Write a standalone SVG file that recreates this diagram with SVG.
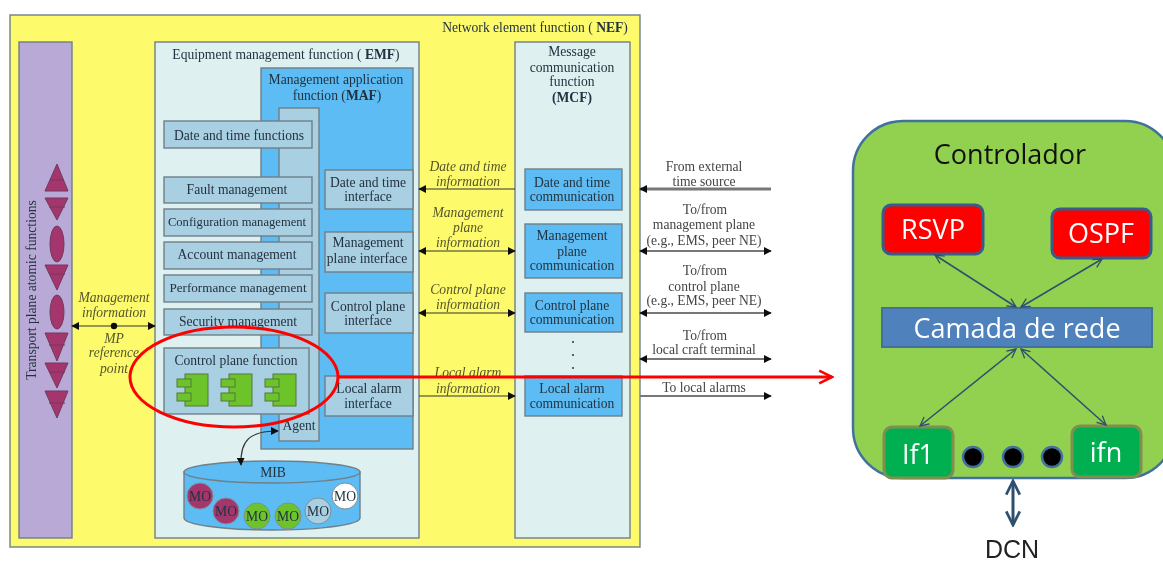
<svg xmlns="http://www.w3.org/2000/svg" width="1163" height="563" viewBox="0 0 1163 563">
<style>
.box{stroke:#6f7f88;stroke-width:1.4}
.pale{fill:#dff0f1}.blue{fill:#5bbcf3}.mid{fill:#a8cfe2}.plum{fill:#a5356d;stroke:#6f3a5c;stroke-width:1}
.t{font-family:"Liberation Serif",serif;font-size:13.6px;fill:#24323f;text-anchor:middle}
.b{font-weight:700}
.i{font-style:italic;fill:#55552a}
.w{fill:#444}
.c{stroke:#333;stroke-width:1.2;fill:none}
.g{stroke:#777;stroke-width:2;fill:none}
.s{font-family:"Open Sans","Noto Sans",sans-serif;font-size:27px;text-anchor:middle}
.a{stroke:#2f4f6f;stroke-width:1.5;fill:none;marker-start:url(#o);marker-end:url(#o)}
.comp{fill:#6cc42c;stroke:#55763a;stroke-width:1}
.mo{stroke:#7f8f96;stroke-width:1}
</style>
<defs>
<filter id="soft" x="-2%" y="-2%" width="104%" height="104%"><feGaussianBlur stdDeviation="0.45"/></filter>
<marker id="k" viewBox="0 0 10 10" refX="9" refY="5" markerWidth="8" markerHeight="8" markerUnits="userSpaceOnUse" orient="auto-start-reverse"><path d="M0 0L10 5L0 10Z" fill="#111"/></marker>
<marker id="o" viewBox="0 0 10 10" refX="9" refY="5" markerWidth="11" markerHeight="11" markerUnits="userSpaceOnUse" orient="auto-start-reverse"><path d="M1 1L9 5L1 9" fill="none" stroke="#2f4f6f" stroke-width="1.2"/></marker>
<marker id="o2" viewBox="0 0 10 10" refX="9" refY="5" markerWidth="17" markerHeight="17" markerUnits="userSpaceOnUse" orient="auto-start-reverse"><path d="M1 1L9 5L1 9" fill="none" stroke="#2f4f6f" stroke-width="1.6"/></marker>
<marker id="r" viewBox="0 0 10 10" refX="9" refY="5" markerWidth="16" markerHeight="16" markerUnits="userSpaceOnUse" orient="auto"><path d="M1 1L9 5L1 9" fill="none" stroke="#f00" stroke-width="1.6"/></marker>
<g id="icon"><rect class="comp" x="185" y="374" width="23" height="32"/><rect class="comp" x="177" y="379" width="14" height="8"/><rect class="comp" x="177" y="393" width="14" height="8"/></g>
</defs>
<rect width="1163" height="563" fill="#fff"/>
<g filter="url(#soft)">
<g id="nef"><rect class="box" x="10" y="15" width="630" height="532" fill="#fdfb6c"/><text class="t" x="535" y="32">Network element function ( <tspan class="b">NEF</tspan>)</text></g>
<g id="transport"><rect class="box" x="19" y="42" width="53" height="496" fill="#b8a9d6"/>
<text class="t" transform="translate(36 290) rotate(-90)">Transport plane atomic functions</text>
<path class="plum" d="M57 164L68 191H45Z M45 198H68L57 220Z"/><ellipse class="plum" cx="57" cy="244" rx="7" ry="18"/>
<path class="plum" d="M45 265H68L57 290Z"/><ellipse class="plum" cx="57" cy="312" rx="7" ry="17"/>
<path class="plum" d="M45 333H68L57 361Z M45 363H68L57 388Z M45 391H68L57 418Z"/>
<path d="M50 180H64M49 207H65M49 274H65M49 345H65M49 372H65M49 403H65" stroke="#6f3a5c" fill="none"/></g>
<g id="emf"><rect class="box pale" x="155" y="42" width="264" height="496"/><text class="t" x="286" y="59">Equipment management function ( <tspan class="b">EMF</tspan>)</text></g>
<g id="maf"><rect class="box blue" x="261" y="68" width="152" height="381"/><text class="t" x="336" y="84">Management application</text><text class="t" x="337" y="100">function (<tspan class="b">MAF</tspan>)</text></g>
<g id="agent"><rect class="box mid" x="279" y="108" width="40" height="333"/><text class="t" x="299" y="430">Agent</text></g>
<g id="date-fn"><rect class="box mid" x="164" y="121" width="148" height="27"/><text class="t" x="239" y="140">Date and time functions</text></g>
<g id="fault"><rect class="box mid" x="164" y="177" width="148" height="26"/><text class="t" x="237" y="194">Fault management</text></g>
<g id="config"><rect class="box mid" x="164" y="209" width="148" height="27"/><text class="t" x="237" y="226" style="font-size:12.6px">Configuration management</text></g>
<g id="account"><rect class="box mid" x="164" y="242" width="148" height="27"/><text class="t" x="237" y="259">Account management</text></g>
<g id="perf"><rect class="box mid" x="164" y="275" width="148" height="27"/><text class="t" x="238" y="292" style="font-size:13.1px">Performance management</text></g>
<g id="security"><rect class="box mid" x="164" y="309" width="148" height="26"/><text class="t" x="238" y="326">Security management</text></g>
<g id="cpf"><rect class="box mid" x="164" y="348" width="145" height="66"/><text class="t" x="236" y="365">Control plane function</text><use href="#icon"/><use href="#icon" x="44"/><use href="#icon" x="88"/></g>
<g id="if-date"><rect class="box mid" x="325" y="170" width="88" height="39"/><text class="t" x="368" y="187">Date and time</text><text class="t" x="368" y="201">interface</text></g>
<g id="if-mgmt"><rect class="box mid" x="325" y="232" width="88" height="40"/><text class="t" x="368" y="247">Management</text><text class="t" x="367" y="263">plane interface</text></g>
<g id="if-ctrl"><rect class="box mid" x="325" y="293" width="88" height="40"/><text class="t" x="368" y="311">Control plane</text><text class="t" x="368" y="325">interface</text></g>
<g id="if-alarm"><rect class="box mid" x="325" y="376" width="88" height="40"/><text class="t" x="369" y="393">Local alarm</text><text class="t" x="368" y="408">interface</text></g>
<g id="mcf"><rect class="box pale" x="515" y="42" width="115" height="496"/><text class="t" x="572" y="56">Message</text><text class="t" x="572" y="72">communication</text><text class="t" x="572" y="86">function</text><text class="t b" x="572" y="102">(MCF)</text></g>
<g id="c-date"><rect class="box blue" x="525" y="169" width="97" height="41"/><text class="t" x="572" y="187">Date and time</text><text class="t" x="572" y="201">communication</text></g>
<g id="c-mgmt"><rect class="box blue" x="525" y="224" width="97" height="54"/><text class="t" x="572" y="240">Management</text><text class="t" x="572" y="256">plane</text><text class="t" x="572" y="270">communication</text></g>
<g id="c-ctrl"><rect class="box blue" x="525" y="293" width="97" height="39"/><text class="t" x="572" y="310">Control plane</text><text class="t" x="572" y="324">communication</text></g>
<g id="c-alarm"><rect class="box blue" x="525" y="376" width="97" height="40"/><text class="t" x="572" y="393">Local alarm</text><text class="t" x="572" y="408">communication</text></g>
<g id="dots"><circle cx="573" cy="342" r="1" fill="#333"/><circle cx="573" cy="355" r="1" fill="#333"/><circle cx="573" cy="368" r="1" fill="#333"/></g>
<g id="mib"><path class="box blue" d="M184 472V518A88 12 0 0 0 360 518V472Z"/><ellipse class="box blue" cx="272" cy="472" rx="88" ry="11"/><text class="t" x="273" y="477">MIB</text>
<circle class="mo" cx="200" cy="496" r="13" fill="#a5356d"/><circle class="mo" cx="226" cy="511" r="13" fill="#a5356d"/><circle class="mo" cx="257" cy="516" r="13" fill="#6cc42c"/><circle class="mo" cx="288" cy="516" r="13" fill="#6cc42c"/><circle class="mo" cx="318" cy="511" r="13" fill="#a8cfe2"/><circle class="mo" cx="345" cy="496" r="13" fill="#fff"/>
<text class="t" x="200" y="501">MO</text><text class="t" x="226" y="516">MO</text><text class="t" x="257" y="521">MO</text><text class="t" x="288" y="521">MO</text><text class="t" x="318" y="516">MO</text><text class="t" x="345" y="501">MO</text></g>
<g id="connectors-left">
<path class="c" d="M72 326H155" marker-start="url(#k)" marker-end="url(#k)"/><circle cx="114" cy="326" r="3.2" fill="#111"/>
<path class="c" d="M278 431C250 431 240 440 241 465" marker-start="url(#k)" marker-end="url(#k)"/>
<path class="c" d="M515 189H419" stroke-width="2" marker-end="url(#k)"/>
<path class="c" d="M419 251H515" marker-start="url(#k)" marker-end="url(#k)"/>
<path class="c" d="M419 313H515" marker-start="url(#k)" marker-end="url(#k)"/>
<path class="c" d="M419 396H515" marker-end="url(#k)"/>
<path class="g" d="M771 189H640" style="stroke-width:3" marker-end="url(#k)"/>
<path class="g" d="M640 251H771" marker-start="url(#k)" marker-end="url(#k)"/>
<path class="g" d="M640 313H771" marker-start="url(#k)" marker-end="url(#k)"/>
<path class="g" d="M640 359H771" marker-start="url(#k)" marker-end="url(#k)"/>
<path class="g" d="M640 396H771" marker-end="url(#k)"/>
</g>
<g id="labels">
<text class="t i" x="114" y="302">Management</text><text class="t i" x="114" y="317">information</text><text class="t i" x="114" y="343">MP</text><text class="t i" x="114" y="357">reference</text><text class="t i" x="114" y="373">point</text>
<text class="t i" x="468" y="171">Date and time</text><text class="t i" x="468" y="186">information</text>
<text class="t i" x="468" y="217">Management</text><text class="t i" x="468" y="232">plane</text><text class="t i" x="468" y="247">information</text>
<text class="t i" x="468" y="294">Control plane</text><text class="t i" x="468" y="309">information</text>
<text class="t i" x="468" y="377">Local alarm</text><text class="t i" x="468" y="393">information</text>
<text class="t w" x="704" y="171">From external</text><text class="t w" x="704" y="186">time source</text>
<text class="t w" x="705" y="214">To/from</text><text class="t w" x="704" y="229">management plane</text><text class="t w" x="704" y="245">(e.g., EMS, peer NE)</text>
<text class="t w" x="705" y="275">To/from</text><text class="t w" x="704" y="291">control plane</text><text class="t w" x="704" y="305">(e.g., EMS, peer NE)</text>
<text class="t w" x="705" y="340">To/from</text><text class="t w" x="704" y="354">local craft terminal</text>
<text class="t w" x="704" y="392">To local alarms</text>
</g>
</g>
<g id="controlador"><rect x="853" y="121" width="322" height="357" rx="50" fill="#92d050" stroke="#41719c" stroke-width="2.5"/><text class="s" x="1010" y="164" fill="#111">Controlador</text></g>
<g id="rsvp"><rect x="883" y="205" width="100" height="49" rx="8" fill="#f00" stroke="#385d8a" stroke-width="3"/><text class="s" x="933" y="239" fill="#fff">RSVP</text></g>
<g id="ospf"><rect x="1052" y="209" width="99" height="49" rx="8" fill="#f00" stroke="#385d8a" stroke-width="3"/><text class="s" x="1101" y="243" fill="#fff">OSPF</text></g>
<g id="camada"><rect x="882" y="308" width="270" height="39" fill="#4f81bd" stroke="#41719c" stroke-width="2"/><text class="s" x="1017" y="338" fill="#fff">Camada de rede</text></g>
<g id="if1"><rect x="884" y="427" width="69" height="51" rx="8" fill="#00b050" stroke="#7f8f4f" stroke-width="3"/><text class="s" x="918" y="464" fill="#fff">If1</text></g>
<g id="ifn"><rect x="1072" y="426" width="69" height="51" rx="8" fill="#00b050" stroke="#7f8f4f" stroke-width="3"/><text class="s" x="1106" y="462" fill="#fff">ifn</text></g>
<g id="port-dots"><circle cx="973" cy="457" r="10" stroke="#41719c" stroke-width="2.5"/><circle cx="1013" cy="457" r="10" stroke="#41719c" stroke-width="2.5"/><circle cx="1052" cy="457" r="10" stroke="#41719c" stroke-width="2.5"/></g>
<g id="connectors">
<path class="a" d="M935 255L1016 307"/><path class="a" d="M1102 259L1021 307"/><path class="a" d="M920 426L1016 349"/><path class="a" d="M1106 425L1021 349"/>
<path d="M1013 481V525" stroke="#2f4f6f" stroke-width="3" fill="none" marker-start="url(#o2)" marker-end="url(#o2)"/>
<path d="M338 377H832" stroke="#f00" stroke-width="3" fill="none" marker-end="url(#r)"/>
</g>
<g id="selection"><ellipse cx="234" cy="377" rx="104" ry="50" fill="none" stroke="#f00" stroke-width="3"/></g>
<text x="1012" y="558" font-family="Liberation Sans, sans-serif" font-size="25" text-anchor="middle" fill="#222">DCN</text>
</svg>
